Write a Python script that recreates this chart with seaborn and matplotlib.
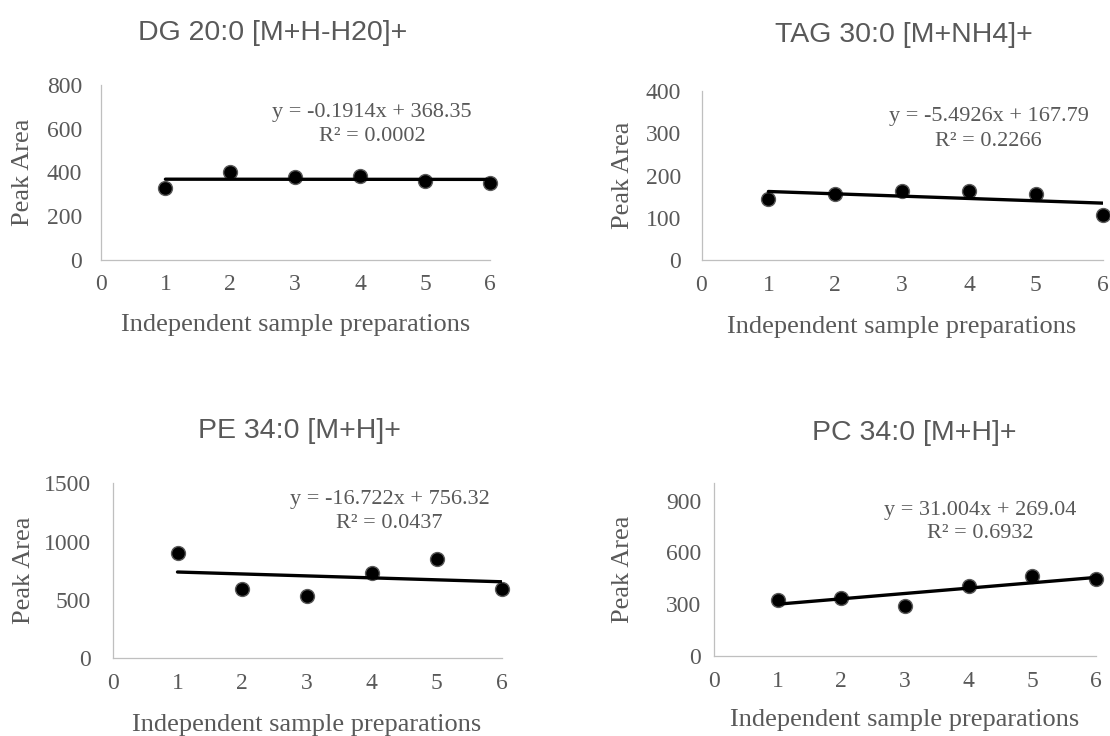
import matplotlib
matplotlib.use("Agg")
import matplotlib.pyplot as plt
import seaborn as sns
import numpy as np
import pandas as pd

# Peak areas of four lipid standards over six independent sample preparations
titles = ["DG 20:0 [M+H-H20]+", "TAG 30:0 [M+NH4]+", "PE 34:0 [M+H]+", "PC 34:0 [M+H]+"]
preparations = [1, 2, 3, 4, 5, 6]
dg_area = [329, 401, 380, 383, 360, 352]
tag_area = [145, 156, 163, 163, 156, 106]
pe_area = [900, 594, 534, 729, 849, 592]
pc_area = [324, 334, 291, 407, 465, 444]

# Linear trendline coefficients and R² shown on each panel
slopes = [-0.1914, -5.4926, -16.722, 31.004]
intercepts = [368.35, 167.79, 756.32, 269.04]
r_squared = [0.0002, 0.2266, 0.0437, 0.6932]

# Axis ranges
y_max = [800, 400, 1500, 1000]
y_step = [200, 100, 500, 300]

sns.set_style("white")
plt.rcParams["font.family"] = ["Liberation Serif", "DejaVu Serif"]

TEXT = "#595959"
AXIS = "#BFBFBF"

fig = plt.figure(figsize=(11.1, 7.36), dpi=100)

# panel boxes in pixels: left, right, top, bottom
boxes = [(100.5, 490, 85, 259.5), (701.5, 1102.7, 90.7, 260.3),
         (112.7, 501.5, 483.3, 658.3), (714, 1096, 483.3, 656)]
title_pos = [(273, 33), (904, 35.5), (299.5, 431.3), (914, 433)]
eq_pos = [((0.697, 0.841), (0.697, 0.703)), ((0.716, 0.847), (0.714, 0.699)),
          ((0.713, 0.905), (0.712, 0.771)), ((0.698, 0.845), (0.696, 0.710))]
ylabel_x = [-0.198, -0.196, -0.228, -0.238]
xlabel_y = [-0.377, -0.392, -0.381, -0.371]
ytick_pad = [8.4, 9.7, 10.4, 4.2]

W, H = 1110, 736
series = [dg_area, tag_area, pe_area, pc_area]

for i, area in enumerate(series):
    l, r, t, b = boxes[i]
    ax = fig.add_axes([l / W, (H - b) / H, (r - l) / W, (b - t) / H])
    df = pd.DataFrame({"prep": preparations, "area": area})

    sns.scatterplot(data=df, x="prep", y="area", ax=ax, s=100, color="black",
                    edgecolor="#5a5a5a", linewidth=1.0, zorder=3, clip_on=False)

    fit = pd.DataFrame({"prep": [preparations[0], preparations[-1]]})
    fit["area"] = slopes[i] * fit["prep"] + intercepts[i]
    sns.lineplot(data=fit, x="prep", y="area", ax=ax, color="black",
                 linewidth=2.4, zorder=4)

    ax.set_xlim(0, 6)
    ax.set_ylim(0, y_max[i])
    ax.set_xticks(range(0, 7))
    ax.set_yticks(np.arange(0, y_max[i] + 1, y_step[i]))

    for side in ["top", "right"]:
        ax.spines[side].set_visible(False)
    for side in ["left", "bottom"]:
        ax.spines[side].set_color(AXIS)
        ax.spines[side].set_linewidth(0.9)

    ax.tick_params(axis="both", colors=AXIS, labelcolor=TEXT, labelsize=17,
                   length=5, width=0.9, direction="out")
    ax.tick_params(axis="x", pad=5.5)
    ax.tick_params(axis="y", pad=ytick_pad[i])

    ax.set_xlabel("Independent sample preparations", fontsize=19, color=TEXT, va="center")
    ax.set_ylabel("Peak Area", fontsize=19, color=TEXT, va="center")
    ax.xaxis.set_label_coords(0.5, xlabel_y[i])
    ax.yaxis.set_label_coords(ylabel_x[i], 0.5)

    (x1, y1), (x2, y2) = eq_pos[i]
    ax.text(x1, y1, f"y = {slopes[i]:g}x + {intercepts[i]:.2f}", transform=ax.transAxes,
            ha="center", va="center", fontsize=16, color=TEXT)
    ax.text(x2, y2, f"R² = {r_squared[i]:.4f}", transform=ax.transAxes,
            ha="center", va="center", fontsize=16, color=TEXT)

    tx, ty = title_pos[i]
    fig.text(tx / W, 1 - ty / H, titles[i], ha="center", va="center", fontsize=20.5,
             color=TEXT, family=["Liberation Sans", "DejaVu Sans"])

fig.savefig("out.png", dpi=100, facecolor="white")
